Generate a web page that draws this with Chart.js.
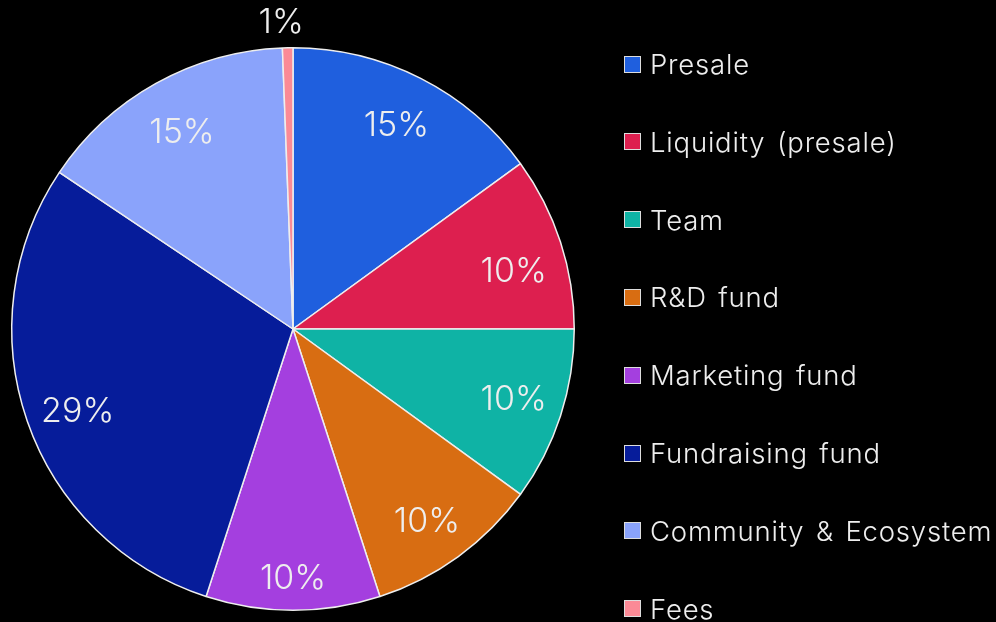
<!DOCTYPE html>
<html>
<head>
<meta charset="utf-8">
<script src="https://cdn.jsdelivr.net/npm/chart.js@4/dist/chart.umd.min.js"></script>
<style>
  html, body { margin: 0; padding: 0; background: #000; overflow: hidden; }
  #wrap { position: relative; width: 996px; height: 622px; }
  #legend { position: absolute; left: 624px; top: 0; font-family: Inter, "Noto Sans", sans-serif; font-size: 27.5px; font-weight: 300; letter-spacing: 0.8px; word-spacing: 3px; color: #eeeeee; }
  .item { position: absolute; left: 0; white-space: nowrap; display: flex; align-items: center; height: 30px; }
  .box { width: 15px; height: 15px; border: 1px solid #dddddd; margin-right: 9px; }
</style>
</head>
<body>
<div id="wrap">
  <canvas id="c" width="996" height="622"></canvas>
  <div id="legend"></div>
</div>
<script>
const labels = ['Presale', 'Liquidity (presale)', 'Team', 'R&D fund', 'Marketing fund', 'Fundraising fund', 'Community & Ecosystem', 'Fees'];
const values = [15, 10, 10, 10, 10, 29.4, 15, 0.6];
const pctLabels = ['15%', '10%', '10%', '10%', '10%', '29%', '15%', '1%'];
const colors = ['#1f5fde', '#dd1f4f', '#0fb3a5', '#d86d12', '#a43fdf', '#061c9a', '#8aa3fb', '#fb8a96'];

// small nudges so labels sit where the original placed them
const labelNudge = [[0, 0], [4, 13], [4, 0], [0, 8], [0, 22], [0, 8], [0, 3], [-6, 0]];

const pctPlugin = {
  id: 'pct',
  afterDatasetsDraw(chart) {
    const ctx = chart.ctx;
    const meta = chart.getDatasetMeta(0);
    ctx.save();
    ctx.fillStyle = '#eeeeee';
    ctx.font = '300 34px Inter, "Noto Sans", sans-serif';
    ctx.textAlign = 'center';
    ctx.textBaseline = 'middle';
    meta.data.forEach((arc, i) => {
      const mid = (arc.startAngle + arc.endAngle) / 2;
      const small = values[i] < 2;
      const r = small ? arc.outerRadius + 25 : arc.outerRadius * 0.81;
      ctx.fillText(pctLabels[i], arc.x + Math.cos(mid) * r + labelNudge[i][0], arc.y + Math.sin(mid) * r + labelNudge[i][1]);
    });
    ctx.restore();
  }
};

new Chart(document.getElementById('c'), {
  type: 'pie',
  data: {
    labels: labels,
    datasets: [{
      data: values,
      backgroundColor: colors,
      borderColor: '#eeeeee',
      borderWidth: 1.5,
    }],
  },
  options: {
    responsive: false,
    animation: false,
    layout: { padding: { left: 11, top: 47, right: 421, bottom: 11 } },
    plugins: {
      legend: { display: false },
      tooltip: { enabled: false },
    },
  },
  plugins: [pctPlugin],
});

const legend = document.getElementById('legend');
labels.forEach((l, i) => {
  const d = document.createElement('div');
  d.className = 'item';
  d.style.top = (49 + i * 77.8) + 'px';
  const b = document.createElement('span');
  b.className = 'box';
  b.style.background = colors[i];
  const t = document.createElement('span');
  t.textContent = l;
  d.appendChild(b);
  d.appendChild(t);
  legend.appendChild(d);
});
</script>
</body>
</html>
